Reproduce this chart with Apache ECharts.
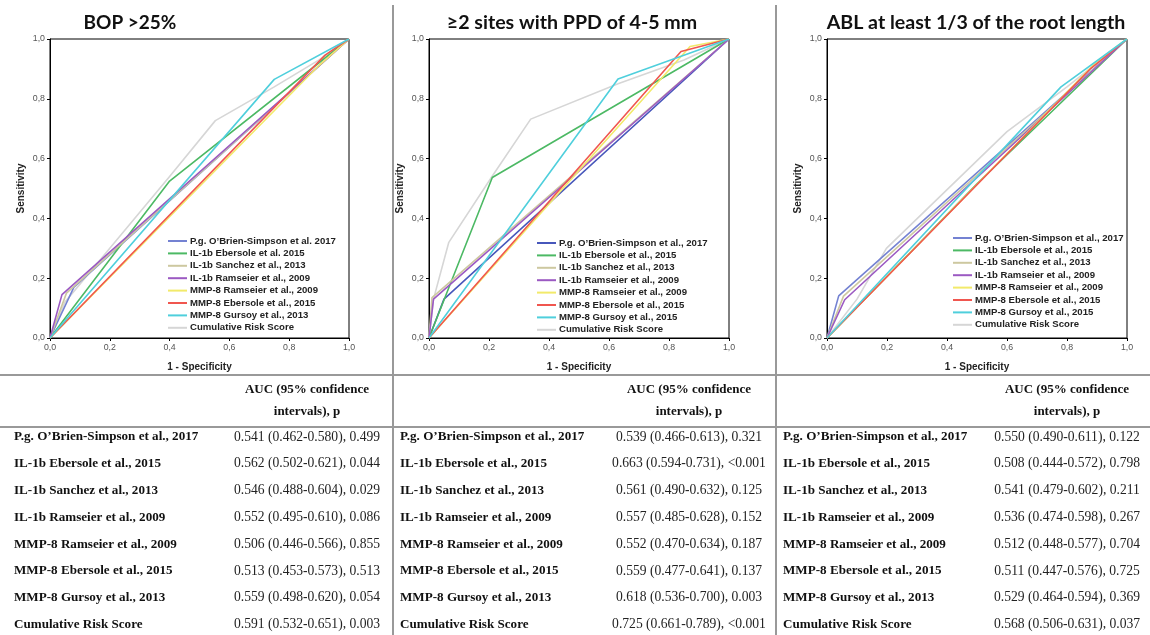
<!DOCTYPE html>
<html><head><meta charset="utf-8">
<script src="https://cdn.jsdelivr.net/npm/echarts@6/dist/echarts.min.js"></script>
<style>html,body{margin:0;padding:0;background:#fff}#c{width:1150px;height:635px}</style>
</head><body><div id="c"></div>
<script>
// ---------- Panel titles ----------
const panelTitles = ['BOP >25%', '\u22652 sites with PPD of 4-5 mm', 'ABL at least 1/3 of the root length'];
const axisTicks = [0, 0.2, 0.4, 0.6, 0.8, 1.0];

// ---------- Legend names (as printed in each panel) ----------
const legendBOP = ["P.g. O\u2019Brien-Simpson et al. 2017", "IL-1b Ebersole et al. 2015", "IL-1b Sanchez et al., 2013", "IL-1b Ramseier et al., 2009", "MMP-8 Ramseier et al., 2009", "MMP-8 Ebersole et al., 2015", "MMP-8 Gursoy et al., 2013", "Cumulative Risk Score"];
const legendPPD = ["P.g. O\u2019Brien-Simpson et al., 2017", "IL-1b Ebersole et al., 2015", "IL-1b Sanchez et al., 2013", "IL-1b Ramseier et al., 2009", "MMP-8 Ramseier et al., 2009", "MMP-8 Ebersole et al., 2015", "MMP-8 Gursoy et al., 2015", "Cumulative Risk Score"];
const legendABL = ["P.g. O\u2019Brien-Simpson et al., 2017", "IL-1b Ebersole et al., 2015", "IL-1b Sanchez et al., 2013", "IL-1b Ramseier et al., 2009", "MMP-8 Ramseier et al., 2009", "MMP-8 Ebersole et al., 2015", "MMP-8 Gursoy et al., 2015", "Cumulative Risk Score"];

// ---------- ROC curves: [1 - specificity, sensitivity] ----------
const bopPg          = [[0,0],[0.08,0.17],[1,1]];
const bopIlEbersole  = [[0,0],[0.40,0.525],[1,1]];
const bopIlSanchez   = [[0,0],[0.055,0.15],[1,1]];
const bopIlRamseier  = [[0,0],[0.04,0.145],[1,1]];
const bopMmpRamseier = [[0,0],[0.90,0.912],[1,1]];
const bopMmpEbersole = [[0,0],[0.92,0.946],[1,1]];
const bopMmpGursoy   = [[0,0],[0.75,0.865],[1,1]];
const bopCumulative  = [[0,0],[0.05,0.12],[0.20,0.30],[0.40,0.54],[0.553,0.727],[0.75,0.84],[0.90,0.93],[1,1]];

const ppdPg          = [[0,0],[0.05,0.13],[1,1]];
const ppdIlEbersole  = [[0,0],[0.211,0.537],[1,1]];
const ppdIlSanchez   = [[0,0],[0.01,0.135],[1,1]];
const ppdIlRamseier  = [[0,0],[0.015,0.13],[1,1]];
const ppdMmpRamseier = [[0,0],[0.87,0.975],[1,1]];
const ppdMmpEbersole = [[0,0],[0.84,0.958],[1,1]];
const ppdMmpGursoy   = [[0,0],[0.63,0.866],[1,1]];
const ppdCumulative  = [[0,0],[0.015,0.13],[0.066,0.32],[0.21,0.54],[0.339,0.732],[0.63,0.85],[0.85,0.93],[1,1]];

const ablPg          = [[0,0],[0.039,0.141],[1,1]];
const ablIlEbersole  = [[0,0],[0.50,0.516],[1,1]];
const ablIlSanchez   = [[0,0],[0.055,0.14],[1,1]];
const ablIlRamseier  = [[0,0],[0.059,0.128],[1,1]];
const ablMmpRamseier = [[0,0],[0.90,0.925],[1,1]];
const ablMmpEbersole = [[0,0],[0.88,0.902],[1,1]];
const ablMmpGursoy   = [[0,0],[0.78,0.84],[1,1]];
const ablCumulative  = [[0,0],[0.10,0.13],[0.198,0.30],[0.60,0.69],[0.80,0.84],[1,1]];

// ---------- Tables ----------
const tableHeader = ['AUC (95% confidence', 'intervals), p'];
const tableLabels = ["P.g. O\u2019Brien-Simpson et al., 2017", "IL-1b Ebersole et al., 2015", "IL-1b Sanchez et al., 2013", "IL-1b Ramseier et al., 2009", "MMP-8 Ramseier et al., 2009", "MMP-8 Ebersole et al., 2015", "MMP-8 Gursoy et al., 2013", "Cumulative Risk Score"];
const aucBOP = ['0.541 (0.462-0.580), 0.499', '0.562 (0.502-0.621), 0.044', '0.546 (0.488-0.604), 0.029', '0.552 (0.495-0.610), 0.086', '0.506 (0.446-0.566), 0.855', '0.513 (0.453-0.573), 0.513', '0.559 (0.498-0.620), 0.054', '0.591 (0.532-0.651), 0.003'];
const aucPPD = ['0.539 (0.466-0.613), 0.321', '0.663 (0.594-0.731), <0.001', '0.561 (0.490-0.632), 0.125', '0.557 (0.485-0.628), 0.152', '0.552 (0.470-0.634), 0.187', '0.559 (0.477-0.641), 0.137', '0.618 (0.536-0.700), 0.003', '0.725 (0.661-0.789), <0.001'];
const aucABL = ['0.550 (0.490-0.611), 0.122', '0.508 (0.444-0.572), 0.798', '0.541 (0.479-0.602), 0.211', '0.536 (0.474-0.598), 0.267', '0.512 (0.448-0.577), 0.704', '0.511 (0.447-0.576), 0.725', '0.529 (0.464-0.594), 0.369', '0.568 (0.506-0.631), 0.037'];

// ---------- Styles ----------
const colorsA = ['#7482d2', '#4cb964', '#cdc8a0', '#9b59c2', '#f2ea6a', '#f0564f', '#4fcfdc', '#d6d6d6'];
const colorsB = ['#4757bb', '#4cb964', '#cdc8a0', '#9b59c2', '#f2ea6a', '#f0564f', '#4fcfdc', '#d6d6d6'];

const panels = [
  { title: panelTitles[0], legend: legendBOP, colors: colorsA, curves: [bopPg, bopIlEbersole, bopIlSanchez, bopIlRamseier, bopMmpRamseier, bopMmpEbersole, bopMmpGursoy, bopCumulative], auc: aucBOP,
    grid: {left: 50, top: 39, width: 299, height: 299}, titleX: 130, legendX: 163, legendY: 231, x0: 0, x1: 392, labelX: 14, valueX: 307 },
  { title: panelTitles[1], legend: legendPPD, colors: colorsB, curves: [ppdPg, ppdIlEbersole, ppdIlSanchez, ppdIlRamseier, ppdMmpRamseier, ppdMmpEbersole, ppdMmpGursoy, ppdCumulative], auc: aucPPD,
    grid: {left: 429, top: 39, width: 300, height: 299}, titleX: 572, legendX: 532, legendY: 233, x0: 394, x1: 775, labelX: 400, valueX: 689 },
  { title: panelTitles[2], legend: legendABL, colors: colorsA, curves: [ablPg, ablIlEbersole, ablIlSanchez, ablIlRamseier, ablMmpRamseier, ablMmpEbersole, ablMmpGursoy, ablCumulative], auc: aucABL,
    grid: {left: 827, top: 39, width: 300, height: 299}, titleX: 976, legendX: 948, legendY: 228, x0: 777, x1: 1150, labelX: 783, valueX: 1067 }
];

const fmt = v => v.toFixed(1).replace('.', ',');
const option = { animation: false, backgroundColor: '#fff', grid: [], xAxis: [], yAxis: [], series: [], legend: [], graphic: [] };

panels.forEach((p, i) => {
  option.grid.push(Object.assign({ show: true, borderColor: '#000', borderWidth: 1, backgroundColor: 'transparent' }, p.grid));
  const axisCommon = {
    type: 'value', min: 0, max: 1, interval: 0.2, gridIndex: i,
    axisLine: { show: true, lineStyle: { color: '#000', width: 1 } },
    axisTick: { show: true, length: 3, lineStyle: { color: '#000' } },
    splitLine: { show: false },
    axisLabel: { formatter: fmt, color: '#555', fontSize: 8.8, fontFamily: 'Liberation Sans, Arial', margin: 5 },
    nameLocation: 'middle',
    nameTextStyle: { fontFamily: 'Liberation Sans, Arial', fontWeight: 'bold', fontSize: 10, color: '#222' }
  };
  option.xAxis.push(Object.assign({}, axisCommon, { name: '1 - Specificity', nameGap: 24 }));
  option.yAxis.push(Object.assign({}, axisCommon, { name: 'Sensitivity', nameGap: 24, nameRotate: 90 }));
  p.curves.forEach((c, k) => {
    option.series.push({
      type: 'line', name: p.legend[k], xAxisIndex: i, yAxisIndex: i, data: c,
      symbol: 'none', smooth: false, lineStyle: { color: p.colors[k], width: 1.6 }, itemStyle: { color: p.colors[k] },
      z: k === 7 ? 1 : 2
    });
  });
  option.legend.push({
    orient: 'vertical', left: p.legendX, top: p.legendY, icon: 'rect', itemWidth: 19, itemHeight: 2, itemGap: 2.4,
    selectedMode: false, padding: 5,
    textStyle: { fontFamily: 'Liberation Sans, Arial', fontWeight: 'bold', fontSize: 9.6, color: '#222', lineHeight: 10, padding: [0, 0, 0, -2] },
    data: p.legend.map((n, k) => ({ name: n, itemStyle: { color: p.colors[k] } }))
  });
  // title
  option.graphic.push({ type: 'text', x: p.titleX, y: 23, style: { text: p.title, fontFamily: 'Lato, Open Sans, sans-serif', fontWeight: 'bold', fontSize: i === 0 ? 19 : 19.6, fill: '#111', textAlign: 'center', textVerticalAlign: 'middle' } });
  // table lines
  option.graphic.push({ type: 'line', shape: { x1: p.x0, y1: 375, x2: p.x1, y2: 375 }, style: { stroke: '#777', lineWidth: 1.5 } });
  option.graphic.push({ type: 'line', shape: { x1: p.x0, y1: 427, x2: p.x1, y2: 427 }, style: { stroke: '#777', lineWidth: 1.5 } });
  // header
  tableHeader.forEach((h, r) => {
    option.graphic.push({ type: 'text', x: p.valueX, y: 390 + r * 22, style: { text: h, fontFamily: 'Liberation Serif, Times New Roman, serif', fontWeight: 'bold', fontSize: 13, fill: '#111', textAlign: 'center', textVerticalAlign: 'middle' } });
  });
  tableLabels.forEach((lab, r) => {
    const y = 437 + r * 26.8;
    option.graphic.push({ type: 'text', x: p.labelX, y: y, style: { text: lab, fontFamily: 'Liberation Serif, Times New Roman, serif', fontWeight: 'bold', fontSize: 13.1, fill: '#111', textAlign: 'left', textVerticalAlign: 'middle' } });
    option.graphic.push({ type: 'text', x: p.valueX, y: y, style: { text: p.auc[r], fontFamily: 'Liberation Serif, Times New Roman, serif', fontSize: 13.6, fill: '#222', textAlign: 'center', textVerticalAlign: 'middle' } });
  });
});
// vertical separators
option.graphic.push({ type: 'line', shape: { x1: 393, y1: 5, x2: 393, y2: 635 }, style: { stroke: '#777', lineWidth: 1.5 } });
option.graphic.push({ type: 'line', shape: { x1: 776, y1: 5, x2: 776, y2: 635 }, style: { stroke: '#777', lineWidth: 1.5 } });

const chart = echarts.init(document.getElementById('c'), null, { renderer: 'canvas' });
chart.setOption(option);
</script>
</body></html>
